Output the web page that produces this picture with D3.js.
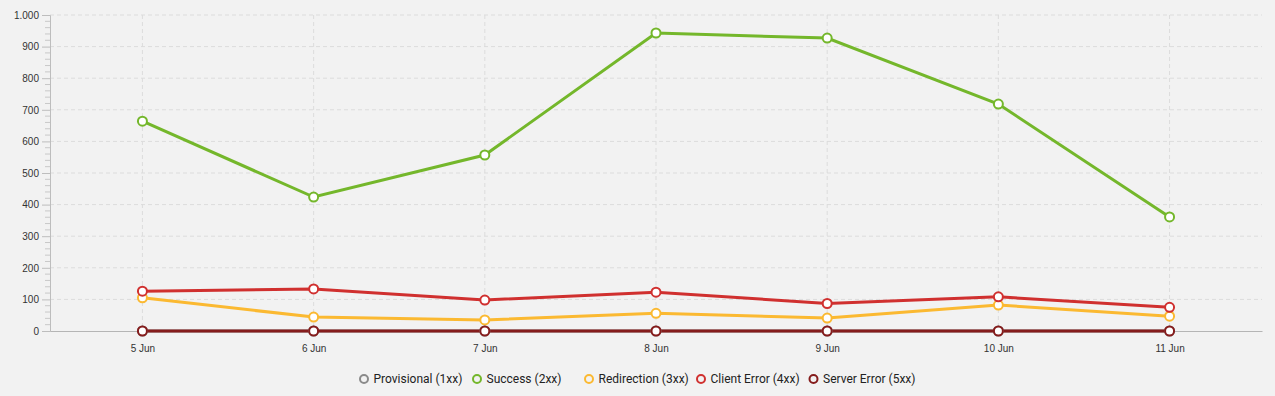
<!DOCTYPE html>
<html>
<head>
<meta charset="utf-8">
<script src="https://cdn.jsdelivr.net/npm/d3@7"></script>
<style>
  html, body { margin: 0; padding: 0; background: #f2f2f2; }
  svg { display: block; font-family: Roboto, "Noto Sans", sans-serif; }
</style>
</head>
<body>
<svg id="chart" width="1275" height="396"></svg>
<script>
// data
var days = ['5 Jun', '6 Jun', '7 Jun', '8 Jun', '9 Jun', '10 Jun', '11 Jun'];
var provisional = [0, 0, 0, 0, 0, 0, 0];
var success = [664, 424, 557, 943, 927, 718, 361];
var redirection = [105, 44, 35, 56, 41, 82, 47];
var clientError = [126, 133, 98, 123, 87, 108, 75];
var serverError = [0, 0, 0, 0, 0, 0, 0];
var yTicks = [0, 100, 200, 300, 400, 500, 600, 700, 800, 900, 1000];

var series = [
    { name: 'Provisional (1xx)', color: '#8a8a8a', values: provisional },
    { name: 'Success (2xx)', color: '#74b72b', values: success },
    { name: 'Redirection (3xx)', color: '#fbb931', values: redirection },
    { name: 'Client Error (4xx)', color: '#d0302f', values: clientError },
    { name: 'Server Error (5xx)', color: '#851c1c', values: serverError }
];

var svg = d3.select('#chart');
var margin = { top: 15, right: 13, bottom: 65, left: 50 };
var width = 1275 - margin.left - margin.right;
var height = 396 - margin.top - margin.bottom;

var g = svg.append('g').attr('transform', 'translate(' + margin.left + ',' + margin.top + ')');

var x = d3.scalePoint().domain(days).range([0, width]).padding(0.54);
var y = d3.scaleLinear().domain([0, 1000]).range([height, 0]);

// grid
g.append('g').selectAll('line.hgrid')
    .data(yTicks.slice(1))
    .enter().append('line')
    .attr('x1', 0).attr('x2', width)
    .attr('y1', function (d) { return y(d); })
    .attr('y2', function (d) { return y(d); })
    .style('stroke', '#dcdcdc')
    .style('stroke-dasharray', '4,3');

g.append('g').selectAll('line.vgrid')
    .data(days)
    .enter().append('line')
    .attr('x1', function (d) { return x(d); })
    .attr('x2', function (d) { return x(d); })
    .attr('y1', 0).attr('y2', height)
    .style('stroke', '#dcdcdc')
    .style('stroke-dasharray', '4,3');

// y axis with minor ticks
var minor = d3.range(0, 1001, 20).filter(function (d) { return d % 100 !== 0; });
g.append('g').selectAll('line.minor')
    .data(minor)
    .enter().append('line')
    .attr('x1', -5).attr('x2', 0)
    .attr('y1', function (d) { return y(d); })
    .attr('y2', function (d) { return y(d); })
    .style('stroke', '#c8c8c8');

var yAxis = g.append('g')
    .call(d3.axisLeft(y).tickValues(yTicks).tickSize(8).tickPadding(3)
        .tickFormat(function (d) { return d === 1000 ? '1.000' : d; }));
yAxis.select('.domain').style('stroke', '#bdbdbd');
yAxis.selectAll('.tick line').style('stroke', '#bdbdbd');
yAxis.selectAll('.tick text').style('font-size', '10px').style('fill', '#333');

// x axis
var xAxis = g.append('g')
    .attr('transform', 'translate(0,' + height + ')')
    .call(d3.axisBottom(x).tickSize(5).tickPadding(9).tickSizeOuter(0));
xAxis.select('.domain').style('stroke', '#b5b5b5');
xAxis.selectAll('.tick line').style('stroke', '#d0d0d0');
xAxis.selectAll('.tick text').style('font-size', '10px').style('fill', '#333');

// lines
var line = d3.line()
    .x(function (d, i) { return x(days[i]); })
    .y(function (d) { return y(d); });

series.forEach(function (s) {
    g.append('path')
        .datum(s.values)
        .attr('d', line)
        .style('fill', 'none')
        .style('stroke', s.color)
        .style('stroke-width', 3);
});

series.forEach(function (s) {
    g.append('g').selectAll('circle')
        .data(s.values)
        .enter().append('circle')
        .attr('cx', function (d, i) { return x(days[i]); })
        .attr('cy', function (d) { return y(d); })
        .attr('r', 4.5)
        .style('fill', '#fff')
        .style('stroke', s.color)
        .style('stroke-width', 2);
});

// legend (slot positions as in the original, second gap is wider)
var slotX = [364, 477, 589, 701, 813.5];
var legend = svg.append('g').attr('transform', 'translate(0,379)');
var items = legend.selectAll('g.item')
    .data(series)
    .enter().append('g')
    .attr('class', 'item')
    .attr('transform', function (d, i) { return 'translate(' + slotX[i] + ',0)'; });
items.append('circle')
    .attr('r', 4)
    .style('fill', 'none')
    .style('stroke', function (d) { return d.color; })
    .style('stroke-width', 2);
items.append('text')
    .attr('x', 9.5)
    .attr('dy', '0.36em')
    .style('font-size', '12px')
    .style('fill', '#222')
    .text(function (d) { return d.name; });
</script>
</body>
</html>
